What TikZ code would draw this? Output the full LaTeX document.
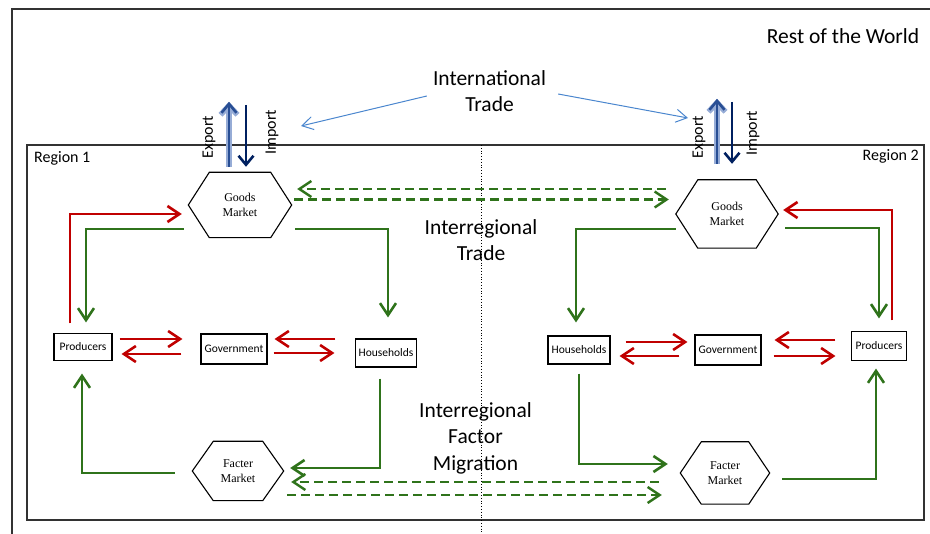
\documentclass[tikz,border=0pt]{standalone}
\usepackage{fontspec}
\setmainfont{Carlito}
\newfontfamily\marketfont{Liberation Serif}
\usetikzlibrary{arrows.meta}
\definecolor{flowgreen}{RGB}{47,115,27}
\definecolor{flowred}{RGB}{192,0,0}
\definecolor{navy}{RGB}{0,32,96}
\definecolor{exportblue}{RGB}{40,78,148}
\definecolor{exportglow}{RGB}{150,172,214}
\definecolor{tradeblue}{RGB}{74,134,206}
\definecolor{framegray}{RGB}{50,50,50}
% outline of a hexagonal market node: #1 node name, #2 horizontal inset of the corners
\newcommand\hexoutline[2]{%
  \draw[line width=1.1pt] (#1.west) -- ([xshift=#2]#1.north west) -- ([xshift=-#2]#1.north east)
    -- (#1.east) -- ([xshift=-#2]#1.south east) -- ([xshift=#2]#1.south west) -- cycle;}
\begin{document}
\begin{tikzpicture}[x=1pt,y=-1pt,
  agent/.style={draw=black, line width=1.1pt, fill=white, inner sep=0pt,
    font=\fontsize{11.5}{13}\selectfont},
  market/.style={inner sep=0pt, align=center, font=\marketfont\fontsize{12}{14.5}\selectfont},
  bigtext/.style={inner sep=0pt, align=center, font=\fontsize{21.5}{26.5}\selectfont},
  regionlabel/.style={inner sep=0pt, font=\fontsize{16}{19}\selectfont},
  vlabel/.style={inner sep=0pt, rotate=90, font=\fontsize{16}{19}\selectfont},
  flowtip/.style={-{Straight Barb[length=12pt,width=16pt]}},
  greenflow/.style={draw=flowgreen, line width=2.6pt, flowtip},
  redflow/.style={draw=flowred, line width=2.6pt, flowtip},
  greendash/.style={draw=flowgreen, line width=2.4pt, dash pattern=on 9pt off 5pt, flowtip},
  tradeflow/.style={draw=tradeblue, line width=1pt, -{Straight Barb[length=11pt,width=13pt]}},
  importflow/.style={draw=navy, line width=2.6pt, -{Straight Barb[length=9pt,width=15pt]}},
  exportcore/.style={draw=exportblue, line width=2.6pt, -{Straight Barb[length=9pt,width=15pt]}},
  exportglowline/.style={draw=exportglow, line width=5.5pt, -{Straight Barb[length=9pt,width=17pt]}},
]
\useasboundingbox (0,0) rectangle (930,534);

% frames
\draw[framegray, line width=1.4pt] (12,534) -- (12,9) -- (930,9);
\draw[framegray, line width=1.2pt] (27,145) rectangle (924,520);
\draw[dotted, line width=0.8pt] (481,145) -- (481,534);

% titles
\node[inner sep=0pt, anchor=base, font=\fontsize{21.5}{26.5}\selectfont] (row) at (843,43.3) {Rest of the World};
\node[bigtext] (intl) at (489.5,91) {International\\Trade};
\node[bigtext] (irt) at (481,240) {Interregional\\Trade};
\node[bigtext] (ifm) at (475.5,438) {Interregional\\Factor\\Migration};
\node[regionlabel, anchor=base west] (r1) at (34,163) {Region 1};
\node[regionlabel, anchor=base east] (r2) at (919,160.7) {Region 2};

% region 1 nodes
\node[market, minimum width=103pt, minimum height=65pt] (gm1) at (240,205) {Goods\\Market};
\node[market, minimum width=91pt, minimum height=59pt] (fm1) at (238,471) {Facter\\Market};
\node[agent, minimum width=58pt, minimum height=27pt] (p1) at (83,347) {Producers};
\node[agent, minimum width=66pt, minimum height=30pt] (g1) at (234,349) {Government};
\node[agent, minimum width=61pt, minimum height=28pt] (h1) at (386,353) {Households};
\hexoutline{gm1}{21pt}
\hexoutline{fm1}{21pt}

% region 2 nodes
\node[market, minimum width=102pt, minimum height=68pt] (gm2) at (727,214) {Goods\\Market};
\node[market, minimum width=89pt, minimum height=62pt] (fm2) at (725,473) {Facter\\Market};
\node[agent, minimum width=62pt, minimum height=28pt] (h2) at (579,350) {Households};
\node[agent, minimum width=66pt, minimum height=30pt] (g2) at (728,350) {Government};
\node[agent, minimum width=55pt, minimum height=29pt] (p2) at (879,346) {Producers};
\hexoutline{gm2}{22pt}
\hexoutline{fm2}{21pt}

% export / import labels
\node[vlabel] (ex1) at (209,137) {Export};
\node[vlabel] (im1) at (272,132) {Import};
\node[vlabel] (ex2) at (699,137) {Export};
\node[vlabel] (im2) at (753,133) {Import};

% international trade pointers
\coordinate (itl) at (301,126);
\coordinate (itr) at (688,118);
\draw[tradeflow] ([shift={(-6,5)}]intl.west) -- (itl);
\draw[tradeflow] ([shift={(12,3)}]intl.east) -- (itr);

% export / import arrows
\draw[exportglowline] ([shift={(-11,-5.5)}]gm1.north) -- ([shift={(-11,-70.5)}]gm1.north);
\draw[exportcore] ([shift={(-11,-5.5)}]gm1.north) -- ([shift={(-11,-70.5)}]gm1.north);
\draw[importflow] ([shift={(6,-67.5)}]gm1.north) -- ([shift={(6,-5.5)}]gm1.north);
\draw[exportglowline] ([shift={(-10,-16)}]gm2.north) -- ([shift={(-10,-81)}]gm2.north);
\draw[exportcore] ([shift={(-10,-16)}]gm2.north) -- ([shift={(-10,-81)}]gm2.north);
\draw[importflow] ([shift={(5,-78)}]gm2.north) -- ([shift={(5,-16)}]gm2.north);

% region 1 real flows
\draw[greenflow] ([shift={(-4.5,24)}]gm1.west) -| ([shift={(3,-10.5)}]p1.north);
\draw[greenflow] ([shift={(3.5,24)}]gm1.east) -| ([shift={(2,-21)}]h1.north);
\draw[greenflow] ([shift={(-6,11)}]h1.south) |- ([shift={(6.5,-3)}]fm1.east);
\draw[greenflow] ([shift={(-17.5,2)}]fm1.west) -| ([shift={(-1,12.5)}]p1.south);

% region 1 money flows
\draw[redflow] ([shift={(-13,-9.5)}]p1.north) |- ([shift={(-6.5,9)}]gm1.west);
\draw[redflow] ([shift={(7,-8)}]p1.east) -- ([shift={(-18,-10)}]g1.west);
\draw[redflow] ([shift={(-19,5)}]g1.west) -- ([shift={(9,7)}]p1.east);
\draw[redflow] ([shift={(-19.5,-14)}]h1.west) -- ([shift={(7,-10)}]g1.east);
\draw[redflow] ([shift={(6,4)}]g1.east) -- ([shift={(-20.5,0)}]h1.west);

% region 2 real flows
\draw[greenflow] ([shift={(0,15)}]gm2.west) -| ([shift={(-3,-13)}]h2.north);
\draw[greenflow] ([shift={(7,14)}]gm2.east) -| ([shift={(0,-12.5)}]p2.north);
\draw[greenflow] ([shift={(0,9)}]h2.south) |- ([shift={(-12.5,-9)}]fm2.west);
\draw[greenflow] ([shift={(12.5,6)}]fm2.east) -| ([shift={(-3,7.5)}]p2.south);

% region 2 money flows
\draw[redflow] ([shift={(13,-10.5)}]p2.north) |- ([shift={(5,-4)}]gm2.east);
\draw[redflow] ([shift={(15,-8)}]h2.east) -- ([shift={(-7,-8)}]g2.west);
\draw[redflow] ([shift={(-15,6)}]g2.west) -- ([shift={(9,6)}]h2.east);
\draw[redflow] ([shift={(-15.5,-6)}]p2.west) -- ([shift={(13,-10)}]g2.east);
\draw[redflow] ([shift={(12,6)}]g2.east) -- ([shift={(-15.5,10)}]p2.west);

% interregional trade and factor migration
\draw[greendash] ([shift={(-10,-25)}]gm2.west) -- ([shift={(5.5,-16)}]gm1.east);
\draw[greendash] ([shift={(2.5,-5.5)}]gm1.east) -- ([shift={(-7,-14.5)}]gm2.west);
\draw[greendash] ([shift={(-21.5,9)}]fm2.west) -- ([shift={(7.5,11)}]fm1.east);
\draw[greendash] ([shift={(3.5,24)}]fm1.east) -- ([shift={(-18.5,22)}]fm2.west);
\end{tikzpicture}
\end{document}
